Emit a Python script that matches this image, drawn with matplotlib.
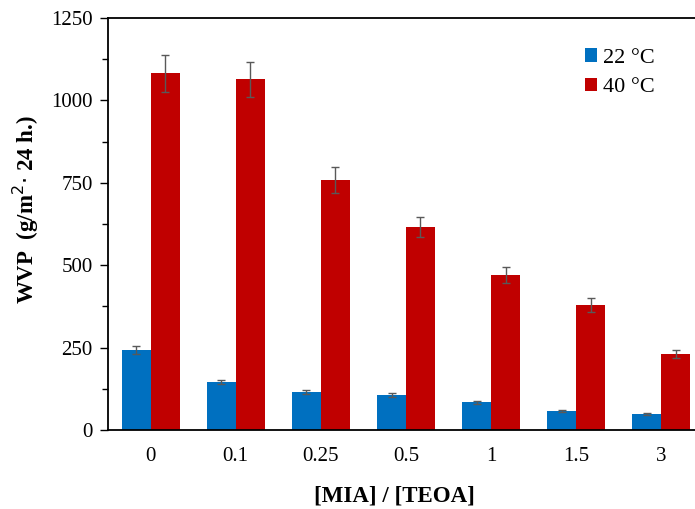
import numpy as np
import matplotlib
matplotlib.use("Agg")
from matplotlib import pyplot as plt

# data
ratios = ['0', '0.1', '0.25', '0.5', '1', '1.5', '3']
wvp_22 = [243, 146, 114, 106, 84, 57, 49]
err_22 = [13, 7, 6, 5, 5, 3, 3]
wvp_40 = [1082, 1064, 758, 616, 470, 379, 230]
err_40 = [55, 53, 40, 30, 25, 20, 12]

plt.rcParams['font.family'] = ['Liberation Serif', 'DejaVu Serif']

fig = plt.figure(figsize=(6.95, 5.09), dpi=100)
# axes run past the right edge, like the cropped original
ax = fig.add_axes([108/695, 1 - 430/509, 596/695, 412/509])

x = np.arange(len(ratios))
w = 0.34
ekw = dict(ecolor='#595959', elinewidth=1, capsize=3, capthick=1)
ax.bar(x - w/2, wvp_22, w, yerr=err_22, color='#0070C0', label='22 °C', error_kw=ekw)
ax.bar(x + w/2, wvp_40, w, yerr=err_40, color='#C00000', label='40 °C', error_kw=ekw)

ax.set_xlim(-0.5, len(ratios) - 0.5)
ax.set_ylim(0, 1250)
ax.set_yticks(np.arange(0, 1251, 250))
ax.set_yticks(np.arange(125, 1250, 250), minor=True)
ax.set_xticks(x)
ax.set_xticklabels(ratios)
ax.tick_params(axis='x', length=0, labelsize=15, pad=12)
ax.tick_params(axis='y', which='major', direction='out', length=6, labelsize=15, width=1, pad=5)
ax.tick_params(axis='y', which='minor', direction='out', length=4, width=1)

for s in ['left', 'bottom', 'top']:
    ax.spines[s].set_linewidth(1.3)
ax.spines['right'].set_visible(False)

ax.set_ylabel(r'WVP  (g/m$^{2}$$\cdot$ 24 h.)', fontsize=16.5, fontweight='bold')
ax.yaxis.set_label_coords(-0.112, 0.535)
ax.set_xlabel('[MIA] / [TEOA]', fontsize=16.5, fontweight='bold')
ax.xaxis.set_label_coords(0.48, -0.134)

ax.legend(loc='upper left', bbox_to_anchor=(0.767, 0.975), frameon=False, fontsize=16,
          handlelength=0.55, handleheight=0.55, handletextpad=0.25, labelspacing=0.45)

fig.savefig('out.png', dpi=100)
